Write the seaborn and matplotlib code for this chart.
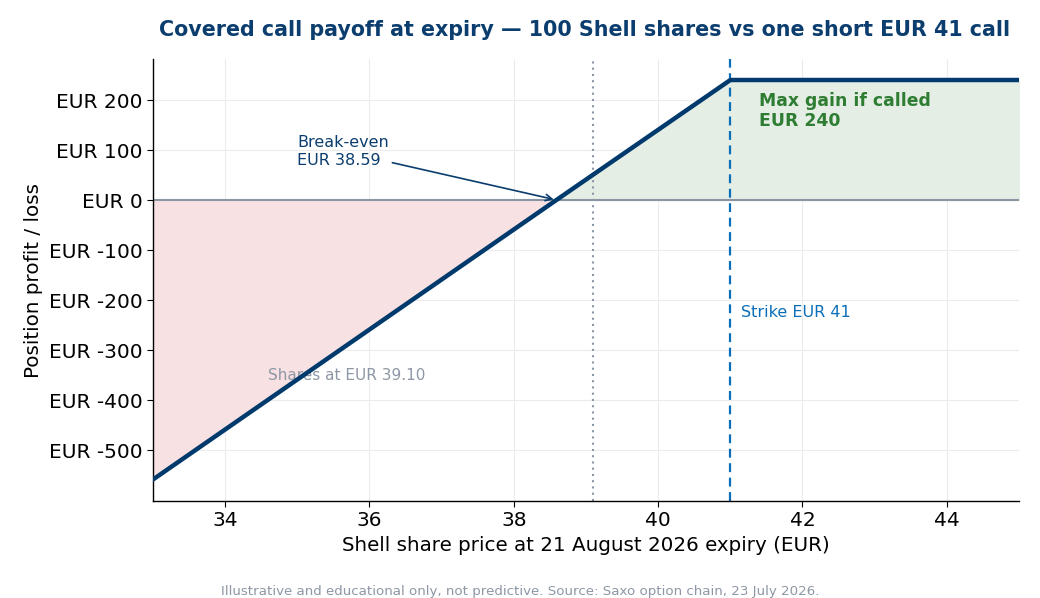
import matplotlib
matplotlib.use("Agg")
import matplotlib.pyplot as plt
import seaborn as sns
import numpy as np
import pandas as pd

# Data
prices = [33.0, 38.59, 41.0, 45.0]
payoff = [-559.0, 0.0, 240.0, 240.0]
share_cost = 39.10
strike = 41.0
break_even = 38.59
max_gain = 240
y_ticks = [-500, -400, -300, -200, -100, 0, 100, 200]
x_ticks = [34, 36, 38, 40, 42, 44]

sns.set_style("white")
plt.rcParams['font.family'] = ['DejaVu Sans']

fig = plt.figure(figsize=(10.4, 5.98), dpi=100)
ax = fig.add_axes([153/1040, 1 - 501/598, (1019-153)/1040, (501-59)/598])

df = pd.DataFrame({"price": prices, "payoff": payoff})
p = np.array(prices)
v = np.array(payoff)
ax.fill_between(p, v, 0, where=v <= 0, color="#f7e1e2", interpolate=True, zorder=1)
ax.fill_between(p, v, 0, where=v >= 0, color="#e4eee4", interpolate=True, zorder=1)

ax.axhline(0, color="#8a96a3", lw=1.5, zorder=2)
ax.axvline(share_cost, color="#8a96a3", lw=1.5, ls=(0, (1, 2)), zorder=2)
ax.axvline(strike, color="#0a6eb8", lw=1.6, ls=(0, (4, 2.5)), zorder=2)

ax.text(34.6, -350, "Shares at EUR 39.10", color="#8d97a5", fontsize=11, va="center", ha="left", zorder=3)

sns.lineplot(data=df, x="price", y="payoff", ax=ax, color="#003a6c", lw=3.2, zorder=4)

ax.annotate("Break-even\nEUR 38.59", xy=(break_even, 0), xytext=(35.0, 97),
            color="#0b3d6e", fontsize=11.5, va="center", ha="left",
            arrowprops=dict(arrowstyle="->", color="#0b3d6e", lw=1.2, shrinkA=0, shrinkB=2), zorder=5)
ax.text(41.4, 217, "Max gain if called\nEUR 240", color="#2e7d32", fontsize=12.4, fontweight="bold",
        va="top", ha="left", zorder=5)
ax.text(41.15, -225, "Strike EUR 41", color="#0a6eb8", fontsize=11.5, va="center", ha="left", zorder=5)

ax.set_xlim(33, 45)
ax.set_ylim(-602, 282)
ax.set_xticks(x_ticks)
ax.set_yticks(y_ticks)
ax.set_yticklabels([f"EUR {t}" for t in y_ticks])
ax.tick_params(axis="both", labelsize=14.5, length=4, color="black", labelcolor="black", bottom=True, left=True)
ax.grid(True, color="#ececec", lw=0.8)
ax.set_axisbelow(True)
for s in ["top", "right"]:
    ax.spines[s].set_visible(False)
for s in ["left", "bottom"]:
    ax.spines[s].set_color("black")
    ax.spines[s].set_linewidth(1.0)

ax.set_xlabel("Shell share price at 21 August 2026 expiry (EUR)", fontsize=14.3, color="black")
ax.set_ylabel("Position profit / loss", fontsize=14.3, color="black")
fig.text(585/1040, 1 - 30/598, "Covered call payoff at expiry \u2014 100 Shell shares vs one short EUR 41 call",
         ha="center", va="center", fontsize=14.9, fontweight="bold", color="#0b3d6e")
fig.text(520/1040, 1 - 591/598, "Illustrative and educational only, not predictive. Source: Saxo option chain, 23 July 2026.",
         ha="center", va="center", fontsize=9.6, color="#8d97a5")

fig.savefig("out.png", dpi=100)
